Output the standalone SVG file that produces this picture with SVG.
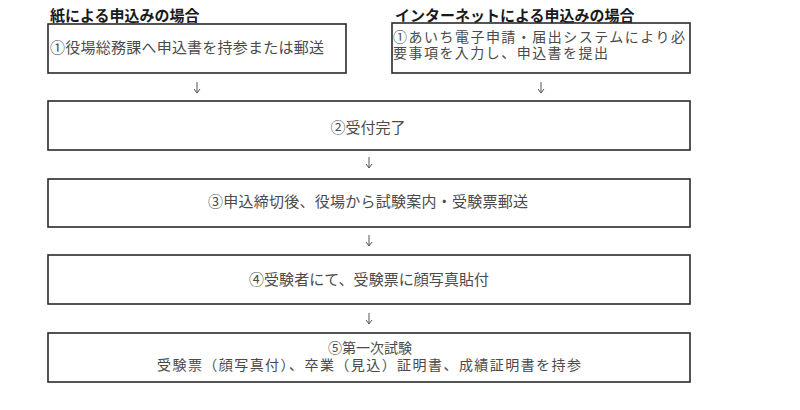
<svg xmlns="http://www.w3.org/2000/svg" width="800" height="410" viewBox="0 0 800 410">
<style>
  .box { fill: #ffffff; stroke: #2a2a2a; stroke-width: 1.6; }
  .t { font-family: "Liberation Sans", "Noto Sans CJK JP", "Noto Sans CJK SC", sans-serif; fill: #4a4a4a; font-size: 15px; }
  .c { text-anchor: middle; }
  .title { font-family: "Liberation Sans", "Noto Sans CJK JP", "Noto Sans CJK SC", sans-serif; fill: #1a1a1a; font-size: 15px; font-weight: bold; }
  .conn { stroke: #555; stroke-width: 1; fill: none; }
</style>
<defs>
  <marker id="ah" viewBox="0 0 8 8" refX="7" refY="4" markerWidth="8" markerHeight="8" markerUnits="userSpaceOnUse" orient="auto">
    <path d="M3,1 L7,4 L3,7" fill="none" stroke="#555" stroke-width="1"/>
  </marker>
</defs>
<rect width="800" height="410" fill="#ffffff"/>

<g id="title-paper">
  <text class="title" x="50" y="21">紙による申込みの場合</text>
</g>
<g id="title-internet">
  <text class="title" x="395" y="21">インターネットによる申込みの場合</text>
</g>

<g id="node-1-paper">
  <rect class="box" x="48" y="24" width="298" height="49"/>
  <text class="t" x="50" y="53" style="font-size:15px" textLength="274" lengthAdjust="spacing">①役場総務課へ申込書を持参または郵送</text>
</g>
<g id="node-1-internet">
  <rect class="box" x="392" y="23" width="298" height="50"/>
  <text class="t" x="393" y="42" style="font-size:14px" textLength="292" lengthAdjust="spacing">①あいち電子申請・届出システムにより必</text>
  <text class="t" x="393" y="58" style="font-size:14px" textLength="215" lengthAdjust="spacing">要事項を入力し、申込書を提出</text>
</g>
<g id="node-2">
  <rect class="box" x="48" y="101" width="642" height="49"/>
  <text class="t c" x="368" y="133">②受付完了</text>
</g>
<g id="node-3">
  <rect class="box" x="48" y="179" width="642" height="48"/>
  <text class="t c" x="368" y="207" textLength="320" lengthAdjust="spacing">③申込締切後、役場から試験案内・受験票郵送</text>
</g>
<g id="node-4">
  <rect class="box" x="48" y="255" width="642" height="49"/>
  <text class="t c" x="369" y="285" textLength="240" lengthAdjust="spacing">④受験者にて、受験票に顔写真貼付</text>
</g>
<g id="node-5">
  <rect class="box" x="48" y="333" width="642" height="49"/>
  <text class="t c" x="370" y="353" style="font-size:14px">⑤第一次試験</text>
  <text class="t c" x="369" y="370" style="font-size:14px" textLength="424" lengthAdjust="spacing">受験票（顔写真付）、卒業（見込）証明書、成績証明書を持参</text>
</g>

<g id="connectors">
  <line class="conn" x1="197" y1="82" x2="197" y2="93" marker-end="url(#ah)"/>
  <line class="conn" x1="541" y1="82" x2="541" y2="93" marker-end="url(#ah)"/>
  <line class="conn" x1="369" y1="157" x2="369" y2="168" marker-end="url(#ah)"/>
  <line class="conn" x1="369" y1="235" x2="369" y2="246" marker-end="url(#ah)"/>
  <line class="conn" x1="369" y1="313" x2="369" y2="324" marker-end="url(#ah)"/>
</g>
</svg>
